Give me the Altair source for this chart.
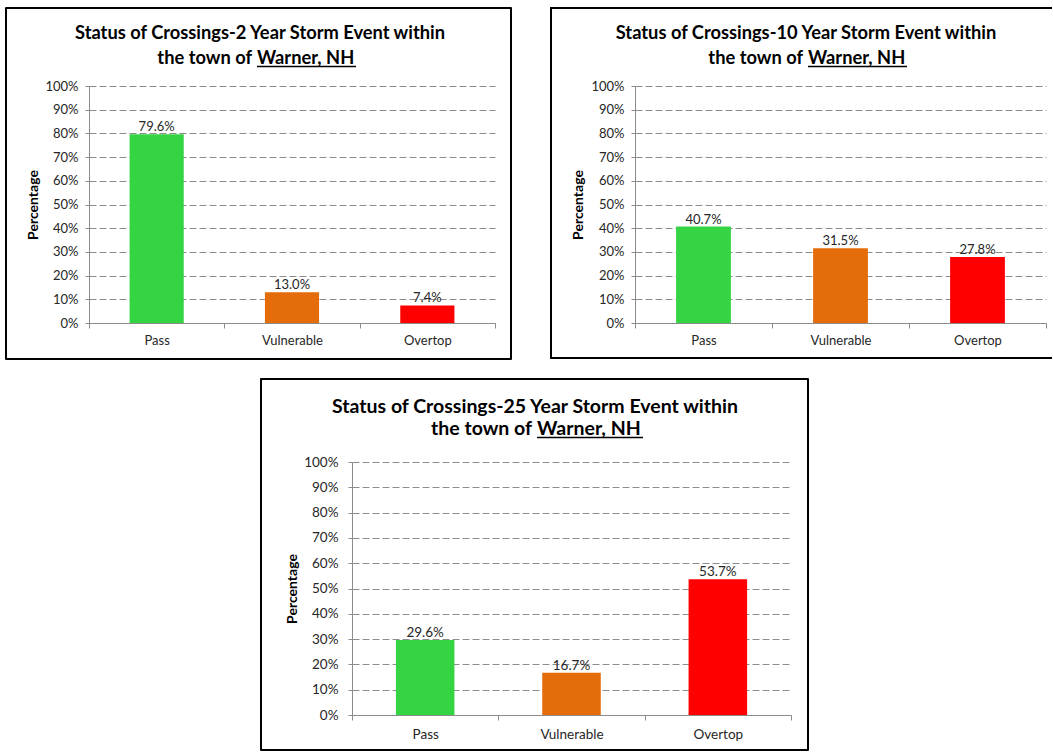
import altair as alt
import pandas as pd

# Crossing status shares (%) for each design storm in Warner, NH
statuses = ["Pass", "Vulnerable", "Overtop"]
pct_2yr = [79.6, 13.0, 7.4]
pct_10yr = [40.7, 31.5, 27.8]
pct_25yr = [29.6, 16.7, 53.7]
status_colors = ["#35D443", "#E46C0A", "#FF0000"]
y_tick_values = [0, 10, 20, 30, 40, 50, 60, 70, 80, 90, 100]

title_line1 = "Status of Crossings-{} Year Storm Event within"
title_lead = "the town of"
title_place = "Warner, NH"

FONT = "Lato"
GRID = "#8c8c8c"
AXIS = "#8c8c8c"
TEXT = "#262626"


def panel(values, years, w, h, g):
    df = pd.DataFrame({"status": statuses, "pct": values})
    base = alt.Chart(df)

    x = alt.X(
        "status:N",
        sort=statuses,
        scale=alt.Scale(paddingInner=0, paddingOuter=0),
        axis=alt.Axis(
            title=None, labelAngle=0, grid=False, tickBand="extent",
            tickSize=5, tickColor=AXIS, domainColor=AXIS,
            labelFont=FONT, labelFontSize=g["fs"], labelColor=TEXT,
            labelPadding=g["xpad"],
        ),
    )
    y = alt.Y(
        "pct:Q",
        scale=alt.Scale(domain=[0, 100], nice=False),
        axis=alt.Axis(
            values=y_tick_values, tickCount=len(y_tick_values),
            labelExpr="datum.value + '%'", labelOverlap=False,
            title="Percentage", titleFont=FONT, titleFontWeight="bold",
            titleFontSize=14, titleColor="black", titleAngle=270,
            titleAlign="center", titleBaseline="middle",
            titleX=g["ytitle_x"], titleY=h / 2,
            grid=True, gridDash=[7, 3], gridColor=GRID,
            tickSize=4, tickColor=AXIS, domainColor=AXIS,
            labelFont=FONT, labelFontSize=g["fs"], labelColor=TEXT,
            labelPadding=g["ypad"],
        ),
    )

    bars = base.mark_bar(width={"band": 0.4}).encode(
        x=x,
        y=y,
        color=alt.Color("status:N", scale=alt.Scale(domain=statuses, range=status_colors), legend=None),
    )
    labels = base.transform_calculate(
        label="format(datum.pct, '.1f') + '%'"
    ).mark_text(
        baseline="alphabetic", dy=-3, font=FONT, fontSize=g["fs"], color=TEXT
    ).encode(x=alt.X("status:N", sort=statuses), y="pct:Q", text="label:N")

    one = alt.Chart(pd.DataFrame({"k": [0]}))
    title_style = dict(font=FONT, fontWeight="bold", fontSize=g["tfs"],
                       baseline="alphabetic", color="black")
    t1 = one.mark_text(text=title_line1.format(years), align="center", **title_style).encode(
        x=alt.value(g["cx"]), y=alt.value(g["ty1"]))
    t2a = one.mark_text(text=title_lead, align="right", **title_style).encode(
        x=alt.value(g["ux"] - 5), y=alt.value(g["ty2"]))
    t2b = one.mark_text(text=title_place, align="left", **title_style).encode(
        x=alt.value(g["ux"]), y=alt.value(g["ty2"]))
    underline = one.mark_rule(color="black", strokeWidth=1.5).encode(
        x=alt.value(g["ux"]), x2=alt.value(g["ux"] + g["ulen"]), y=alt.value(g["ty2"] + 2.5)
    )

    bx0, bx1, by0, by1 = g["box"]
    if g["open_right"]:
        frame = [
            one.mark_rule(color="black", strokeWidth=2).encode(
                x=alt.value(bx0), y=alt.value(by0 - 1), y2=alt.value(by1 + 1)),
            one.mark_rule(color="black", strokeWidth=2, strokeCap="butt").encode(
                x=alt.value(bx0), x2=alt.value(bx1), y=alt.value(by0)),
            one.mark_rule(color="black", strokeWidth=2, strokeCap="butt").encode(
                x=alt.value(bx0), x2=alt.value(bx1), y=alt.value(by1)),
        ]
    else:
        frame = [
            one.mark_rect(fill="white", fillOpacity=0, stroke="black", strokeWidth=2,
                          strokeJoin="round").encode(
                x=alt.value(bx0), x2=alt.value(bx1), y=alt.value(by0), y2=alt.value(by1))
        ]

    return alt.layer(bars, labels, t1, t2a, t2b, underline, *frame).properties(width=w, height=h)


left = panel(pct_2yr, 2, 406, 237, dict(
    fs=13, tfs=18.3, xpad=6, ypad=7, ytitle_x=-56,
    cx=171, ty1=-47, ty2=-22, ux=168, ulen=99,
    box=(-83, 422, -78, 273), open_right=False))

right = panel(pct_10yr, 10, 411, 237, dict(
    fs=13, tfs=18.3, xpad=6, ypad=7, ytitle_x=-57,
    cx=171, ty1=-47, ty2=-22, ux=173, ulen=99,
    box=(-84, 417, -78, 272), open_right=True))

bottom = panel(pct_25yr, 25, 439, 253, dict(
    fs=13.5, tfs=19.5, xpad=7, ypad=10, ytitle_x=-60,
    cx=183, ty1=-49, ty2=-27, ux=185, ulen=106,
    box=(-91, 456, -83, 288), open_right=False))

# invisible block that pushes the third panel to the right
spacer = alt.Chart(pd.DataFrame({"k": [0]})).mark_rect(opacity=0).encode(
    x=alt.value(0), x2=alt.value(1), y=alt.value(0), y2=alt.value(1)
).properties(width=263, height=1)

top_row = alt.hconcat(left, right, spacing=140, bounds="flush")
bottom_row = alt.hconcat(spacer, bottom, spacing=0, bounds="flush")

chart = alt.vconcat(top_row, bottom_row, spacing=376, bounds="flush").properties(
    padding={"left": 5, "top": 6, "right": 0, "bottom": 0},
    background="white",
).configure_view(strokeWidth=0, stroke="transparent")

chart.save("out.html", embed_options={"renderer": "svg", "actions": False})
